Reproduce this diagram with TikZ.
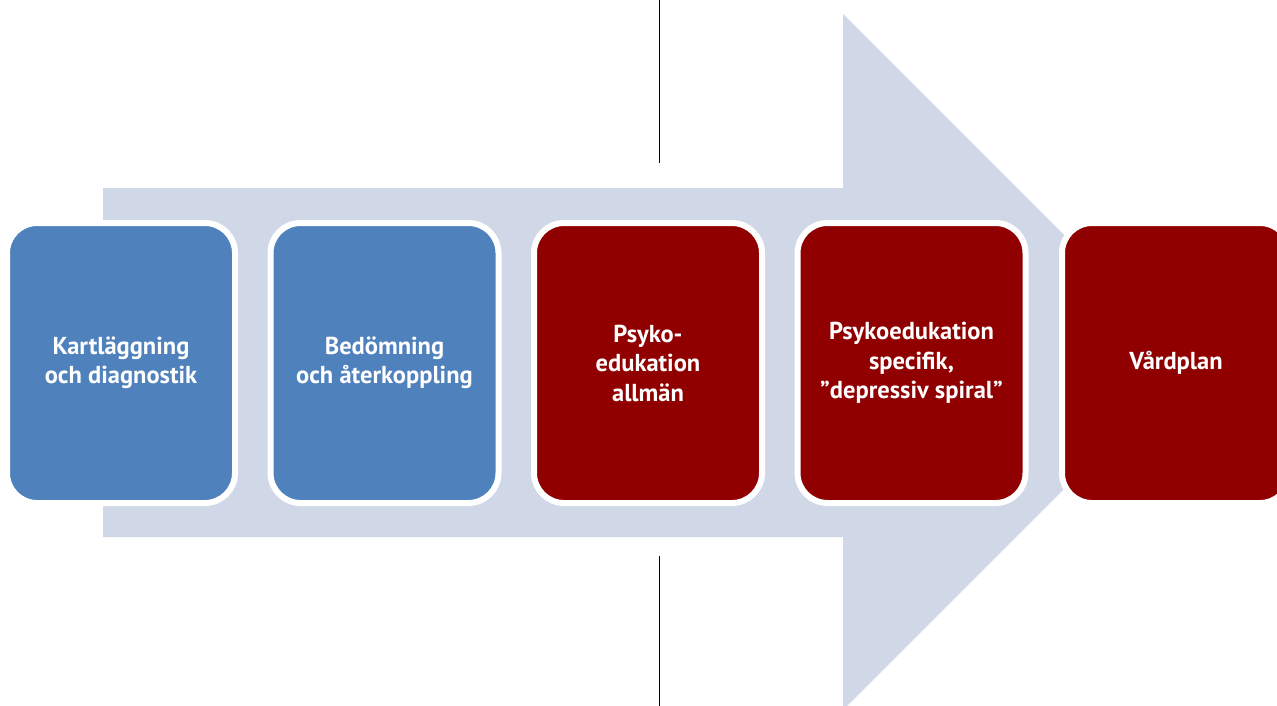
\documentclass[tikz,border=0pt]{standalone}
\usepackage{fontspec}
\setmainfont{PT Sans}
\definecolor{arrowfill}{HTML}{D0D8E8}
\definecolor{stepblue}{HTML}{4F81BD}
\definecolor{stepred}{HTML}{900000}
\tikzset{
  stepbox/.style={draw=white, line width=6pt, rounded corners=30pt,
    minimum width=228pt, minimum height=280pt, inner sep=0pt,
    text=white, font=\fontsize{24.5}{29.5}\selectfont\bfseries, align=center},
  bluebox/.style={stepbox, fill=stepblue},
  redbox/.style={stepbox, fill=stepred},
  divider/.style={draw=black, line width=1pt}
}
\begin{document}
\begin{tikzpicture}[x=1pt, y=-1pt]
  \useasboundingbox (0,0) rectangle (1277,706);
  % big process arrow in the background
  \fill[arrowfill] (103,188) -- (843,188) -- (843,14) -- (1191,362)
    -- (843,710) -- (843,537) -- (103,537) -- cycle;
  % thin vertical dividers
  \coordinate (d1a) at (659,0);
  \coordinate (d1b) at (659,163);
  \coordinate (d2a) at (659,556);
  \coordinate (d2b) at (659,706);
  \draw[divider] (d1a) -- (d1b);
  \draw[divider] (d2a) -- (d2b);
  % steps
  \node[bluebox] (s1) at (121,363) {Kartläggning\\och diagnostik};
  \node[bluebox] (s2) at (384.5,363) {Bedömning\\och återkoppling};
  \node[redbox]  (s3) at (648,363) {Psyko-\\edukation\\allmän};
  \node[redbox]  (s4) at (911.5,363) {Psykoedukation\\specifik,\\”depressiv spiral”};
  \node[redbox]  (s5) at (1176,363) {Vårdplan};
\end{tikzpicture}
\end{document}
